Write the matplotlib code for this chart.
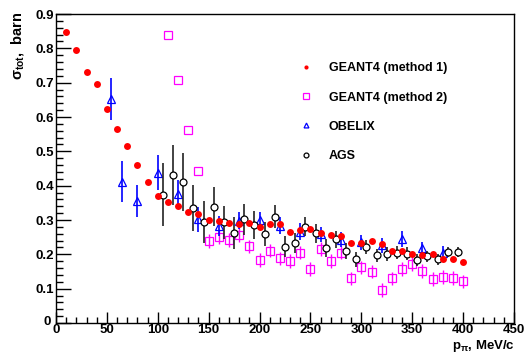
import matplotlib
matplotlib.use("Agg")
import matplotlib.pyplot as plt
import matplotlib.transforms as mtransforms
from matplotlib.ticker import MultipleLocator
from matplotlib.lines import Line2D

# GEANT4 (method 1)
g1_x = [10, 20, 30, 40, 50, 60, 70, 80, 90, 100, 110, 120, 130, 140, 150, 160, 170, 180, 190, 200,
        210, 220, 230, 240, 250, 260, 270, 280, 290, 300, 310, 320, 330, 340, 350, 360, 370, 380, 390, 400]
g1_y = [0.849, 0.796, 0.730, 0.695, 0.622, 0.564, 0.516, 0.460, 0.411, 0.371, 0.353, 0.342, 0.323, 0.317,
        0.301, 0.297, 0.292, 0.289, 0.290, 0.281, 0.289, 0.289, 0.266, 0.271, 0.273, 0.261, 0.256, 0.253,
        0.234, 0.234, 0.239, 0.229, 0.211, 0.210, 0.202, 0.197, 0.200, 0.186, 0.186, 0.177]

# GEANT4 (method 2)
g2_x = [110, 120, 130, 140, 150, 160, 170, 180, 190, 200, 210, 220, 230, 240, 250, 260, 270, 280, 290,
        300, 310, 320, 330, 340, 350, 360, 370, 380, 390, 400]
g2_y = [0.839, 0.708, 0.563, 0.444, 0.239, 0.250, 0.242, 0.256, 0.223, 0.183, 0.211, 0.188, 0.181, 0.205,
        0.157, 0.216, 0.181, 0.205, 0.130, 0.162, 0.150, 0.097, 0.130, 0.158, 0.171, 0.152, 0.129, 0.133,
        0.131, 0.121]
g2_err = [0.0, 0.0, 0.0, 0.0, 0.02, 0.02, 0.02, 0.02, 0.02, 0.02, 0.02, 0.02, 0.02, 0.02, 0.02, 0.02,
          0.02, 0.02, 0.02, 0.02, 0.02, 0.02, 0.02, 0.02, 0.02, 0.02, 0.02, 0.02, 0.02, 0.02]

# OBELIX
ob_x = [54, 65, 80, 100, 120, 140, 160, 180, 200, 220, 240, 260, 280, 300, 320, 340, 360, 380]
ob_y = [0.652, 0.412, 0.356, 0.438, 0.376, 0.302, 0.283, 0.298, 0.300, 0.283, 0.266, 0.259, 0.242,
        0.235, 0.227, 0.244, 0.219, 0.203]
ob_err = [0.062, 0.060, 0.047, 0.051, 0.040, 0.036, 0.030, 0.025, 0.024, 0.025, 0.025, 0.022, 0.022,
          0.022, 0.022, 0.024, 0.018, 0.020]

# AGS
ags_x = [105, 115, 125, 135, 145, 155, 165, 175, 185, 195, 205, 215, 225, 235, 245, 255, 265, 275,
         285, 295, 305, 315, 325, 335, 345, 355, 365, 375, 385, 395]
ags_y = [0.374, 0.431, 0.410, 0.335, 0.295, 0.339, 0.294, 0.263, 0.302, 0.285, 0.259, 0.310, 0.222,
         0.232, 0.281, 0.261, 0.218, 0.244, 0.210, 0.186, 0.221, 0.197, 0.201, 0.205, 0.202, 0.184,
         0.194, 0.186, 0.206, 0.206]
ags_err = [0.091, 0.087, 0.085, 0.066, 0.061, 0.056, 0.048, 0.047, 0.045, 0.040, 0.034, 0.034, 0.030,
           0.029, 0.027, 0.027, 0.026, 0.025, 0.024, 0.022, 0.021, 0.019, 0.019, 0.018, 0.018, 0.017,
           0.017, 0.016, 0.015, 0.015]

labels = ['GEANT4 (method 1)', 'GEANT4 (method 2)', 'OBELIX', 'AGS']
xt = [0, 50, 100, 150, 200, 250, 300, 350, 400, 450]
yt = [0, 0.1, 0.2, 0.3, 0.4, 0.5, 0.6, 0.7, 0.8, 0.9]

plt.rcParams['font.family'] = ['Liberation Sans', 'DejaVu Sans']
plt.rcParams['font.weight'] = 'bold'
plt.rcParams['mathtext.fontset'] = 'custom'
plt.rcParams['mathtext.rm'] = 'Liberation Sans:bold'
plt.rcParams['mathtext.it'] = 'Liberation Sans:bold'

fig = plt.figure(figsize=(5.28, 3.56), dpi=100)
ax = fig.add_axes([56/528, 1-323/356, (514-56)/528, (323-14)/356])

ax.errorbar(ob_x, ob_y, yerr=ob_err, fmt='^', mfc='none', mec='blue', ecolor='blue', mew=0.9,
            ms=5.5, elinewidth=1.2, capsize=0, zorder=3)
ax.errorbar(ags_x, ags_y, yerr=ags_err, fmt='o', mfc='white', mec='black', ecolor='#222222', mew=0.9,
            ms=5, elinewidth=1.2, capsize=0, zorder=4)
ax.errorbar(g2_x, g2_y, yerr=g2_err, fmt='s', mfc='none', mec='#ff00ff', ecolor='#ff00ff', mew=0.9,
            ms=5.5, elinewidth=1.0, capsize=0, zorder=2)
ax.plot(g1_x, g1_y, 'o', color='#ff0000', ms=5, mec='#ff0000', mew=0, zorder=5)

ax.xaxis.set_minor_locator(MultipleLocator(10))
ax.yaxis.set_minor_locator(MultipleLocator(0.02))
ax.tick_params(axis='both', which='both', direction='in', top=False, right=False, labelsize=9.5)
ax.tick_params(axis='y', which='major', length=11, width=1)
ax.tick_params(axis='y', which='minor', length=5, width=1)
ax.tick_params(axis='x', which='major', length=8, width=1)
ax.tick_params(axis='x', which='minor', length=4, width=1)
ax.tick_params(axis='x', pad=1)
ax.tick_params(axis='y', pad=1.5)
ax.set_xticks(xt)
ax.set_xticklabels([str(v) for v in xt], fontweight='bold')
ax.set_yticks(yt)
ax.set_yticklabels(['0' if v == 0 else f'{v:.1f}' for v in yt], fontweight='bold')
ax.set_xlim(0, 450)
ax.set_ylim(0, 0.9)
for s in ax.spines.values():
    s.set_linewidth(1)

# nudge the y-axis "0" so it sits diagonally next to the x-axis "0"
ylab0 = ax.get_yticklabels()[0]
ylab0.set_transform(ylab0.get_transform() +
                    mtransforms.ScaledTranslation(-2.5/72, 2/72, fig.dpi_scale_trans))

handles = [
    Line2D([], [], ls='none', marker='o', color='#ff0000', ms=3, mew=0),
    Line2D([], [], ls='none', marker='s', mfc='none', mec='#ff00ff', ms=5, mew=0.9),
    Line2D([], [], ls='none', marker='^', mfc='none', mec='blue', ms=3.5, mew=0.9),
    Line2D([], [], ls='none', marker='o', mfc='none', mec='black', ms=3.5, mew=0.9),
]
leg = ax.legend(handles, labels, loc='upper left', bbox_to_anchor=(0.50, 0.88), frameon=False,
                fontsize=9, handlelength=1.6, handletextpad=1.0, labelspacing=1.38)
for t in leg.get_texts():
    t.set_fontweight('bold')

fig.text(18/528, 1-12/356, r'$\sigma_{\rm tot}$,  barn', rotation=90, ha='center', va='top',
         fontsize=10.5, fontweight='bold')
fig.text(515/528, 1-354/356, r'p$_{\pi}$, MeV/c', ha='right', va='bottom', fontsize=9.5,
         fontweight='bold')

fig.savefig('out.png', dpi=100)
